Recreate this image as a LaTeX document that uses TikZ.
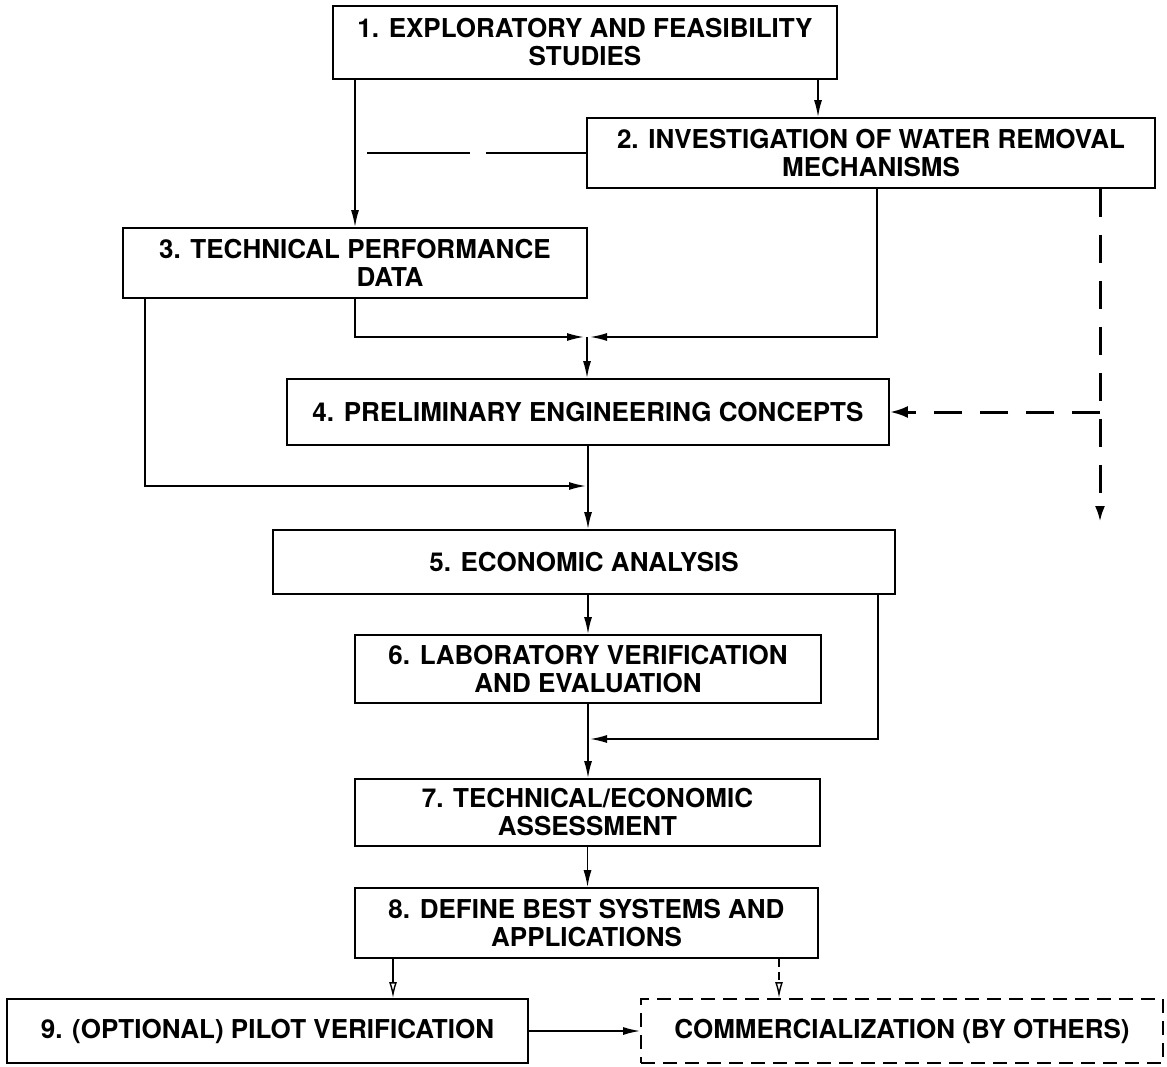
\documentclass[tikz,border=0pt]{standalone}
\usepackage{fontspec}
\setmainfont{TeX Gyre Heros}
\usetikzlibrary{arrows.meta}
\begin{document}
\begin{tikzpicture}[x=1pt,y=-1pt,
  box/.style={draw, line width=1.8pt, inner sep=0pt, align=center,
    font=\fontsize{26}{28}\selectfont\bfseries},
  arr/.style={line width=1.6pt, -{Latex[length=17pt,width=8pt]}},
  oarr/.style={line width=1.4pt, -{Latex[open,length=16pt,width=8pt]}},
  dline/.style={line width=3pt, dash pattern=on 28pt off 18pt},
]
\useasboundingbox (0,0) rectangle (1167,1067);
\fill[white] (0,0) rectangle (1167,1067);
% boxes
\node[box, minimum width=504pt, minimum height=73pt] (b1) at (585,42.5) {1. EXPLORATORY AND FEASIBILITY\\STUDIES};
\node[box, minimum width=568pt, minimum height=70pt] (b2) at (871,153) {2. INVESTIGATION OF WATER REMOVAL\\MECHANISMS};
\node[box, minimum width=464pt, minimum height=70pt] (b3) at (355,263) {3. TECHNICAL PERFORMANCE\\\hspace*{70pt}DATA};
\node[box, minimum width=602pt, minimum height=66pt] (b4) at (588,412) {4. PRELIMINARY ENGINEERING CONCEPTS};
\node[box, minimum width=622pt, minimum height=64pt] (b5) at (584,562) {5. ECONOMIC ANALYSIS};
\node[box, minimum width=466pt, minimum height=68pt] (b6) at (588,669) {6. LABORATORY VERIFICATION\\AND EVALUATION};
\node[box, minimum width=465pt, minimum height=67pt] (b7) at (587.5,812.5) {7. TECHNICAL/ECONOMIC\\ASSESSMENT};
\node[box, minimum width=463pt, minimum height=70pt] (b8) at (586.5,923) {8. DEFINE BEST SYSTEMS AND\\APPLICATIONS};
\node[box, minimum width=521pt, minimum height=64pt] (b9) at (267.5,1031) {9. (OPTIONAL) PILOT VERIFICATION};
\node[box, dash pattern=on 14pt off 8pt, minimum width=522pt, minimum height=64pt] (bc) at (902,1031) {COMMERCIALIZATION (BY OTHERS)};
% helper coordinates
\coordinate (x818) at (818,0);
\coordinate (x877) at (877,0);
\coordinate (x145) at (145,0);
\coordinate (x878) at (878,0);
\coordinate (x393) at (393,0);
\coordinate (x779) at (779,0);
\coordinate (x1100) at (1100,0);
\coordinate (ds) at (367,153);
\coordinate (J1) at (587,337);
\coordinate (J2) at (588,486);
\coordinate (J3) at (588,739);
\coordinate (JD) at (1100,412);
\coordinate (DE) at (1100,522);
% connectors
\draw[arr] (b1.south -| x818) -- (b2.north -| x818);
\draw[arr] (b1.south -| b3.north) -- (b3.north);
\draw[line width=1.6pt, dash pattern=on 103pt off 16pt] (ds) -- (b2.west);
\draw[arr, shorten >=3pt] (b3.south) |- (J1);
\draw[arr, shorten >=3pt] (b2.south -| x877) |- (J1);
\draw[arr] (J1) -- (b4.north -| J1);
\draw[arr, shorten >=2pt] (b3.south -| x145) |- (J2);
\draw[arr] (b4.south) -- (b5.north -| b4.south);
\draw[arr] (b5.south -| b6.north) -- (b6.north);
\draw[arr, shorten >=2pt] (b5.south -| x878) |- (J3);
\draw[arr] (b6.south) -- (b7.north -| b6.south);
\draw[arr] (b7.south) -- (b8.north -| b7.south);
\draw[oarr] (b8.south -| x393) -- (b9.north -| x393);
\draw[oarr, dash pattern=on 8pt off 5pt] (b8.south -| x779) -- (bc.north -| x779);
\draw[arr] (b9.east) -- (bc.west);
\draw[dline, -{Latex[length=16pt,width=10pt]}] (b2.south -| x1100) -- (DE);
\draw[dline, -{Latex[length=18pt,width=12pt]}] (JD) -- (b4.east);
\end{tikzpicture}
\end{document}
